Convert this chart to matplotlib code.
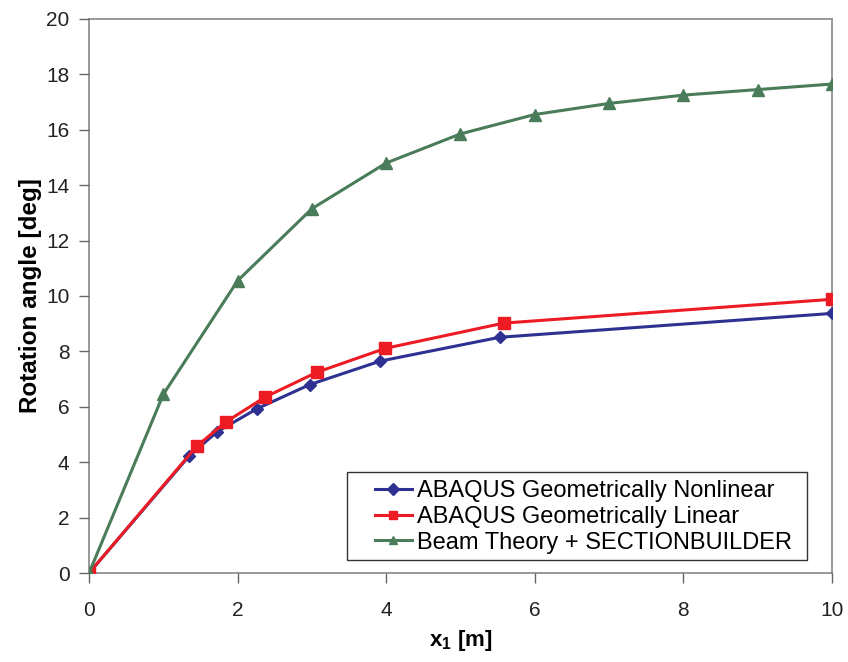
import matplotlib
matplotlib.use("Agg")
import matplotlib.pyplot as plt
from matplotlib.patches import Rectangle

plt.rcParams["font.family"] = ["Liberation Sans", "DejaVu Sans"]
plt.rcParams["mathtext.fontset"] = "custom"
plt.rcParams["mathtext.rm"] = "Liberation Sans"
plt.rcParams["mathtext.bf"] = "Liberation Sans:bold"

x_nonlin = [0, 1.35, 1.72, 2.26, 2.97, 3.92, 5.53, 10]
y_nonlin = [0, 4.23, 5.09, 5.93, 6.80, 7.65, 8.51, 9.37]

x_lin = [0, 1.45, 1.84, 2.37, 3.07, 3.99, 5.58, 10]
y_lin = [0, 4.58, 5.45, 6.35, 7.25, 8.11, 9.02, 9.88]

x_beam = [0, 1, 2, 3, 4, 5, 6, 7, 8, 9, 10]
y_beam = [0, 6.45, 10.55, 13.15, 14.8, 15.85, 16.55, 16.95, 17.25, 17.45, 17.65]

fig = plt.figure(figsize=(8.48, 6.62), dpi=100)
ax = fig.add_axes([0.105, 0.1344, 0.876, 0.837])

ax.plot(x_nonlin, y_nonlin, color="#2E3192", marker="D", markersize=6, linewidth=2.2,
        label="ABAQUS Geometrically Nonlinear", zorder=3)
ax.plot(x_lin, y_lin, color="#ED1C24", marker="s", markersize=8, linewidth=2.2,
        label="ABAQUS Geometrically Linear", zorder=3)
ax.plot(x_beam, y_beam, color="#4A7C59", marker="^", markersize=8.5, linewidth=2.2,
        label="Beam Theory + SECTIONBUILDER", zorder=3)

ax.set_xlim(0, 10)
ax.set_ylim(0, 20)
ax.set_xticks(range(0, 11, 2))
ax.set_yticks(range(0, 21, 2))
ax.tick_params(direction="out", length=7, color="#666666", labelsize=15,
               labelcolor="#222222", width=1)
ax.tick_params(axis="x", pad=13)
ax.tick_params(axis="y", pad=7)
for s in ax.spines.values():
    s.set_color("#888888")
    s.set_linewidth(1.2)
    s.set_zorder(1)

ax.set_xlabel(r"$\mathbf{x_1}$ [m]", fontsize=16, fontweight="bold", labelpad=6)
ax.set_ylabel("Rotation angle [deg]", fontsize=17.5, fontweight="bold", labelpad=3)

# legend box drawn separately so the wide left margin matches
ax.add_patch(Rectangle((0.347, 0.0235), 0.619, 0.159, transform=ax.transAxes,
                       facecolor="white", edgecolor="#333333", linewidth=1.0,
                       zorder=4))
leg = ax.legend(loc="lower left", bbox_to_anchor=(0.385, 0.035), fontsize=17,
                frameon=False, numpoints=1, handlelength=1.55, handletextpad=0.22,
                borderpad=0, labelspacing=0.16, borderaxespad=0)
leg.set_zorder(5)
for h in leg.legend_handles:
    h.set_markersize(6)

fig.savefig("out.png", dpi=100)
